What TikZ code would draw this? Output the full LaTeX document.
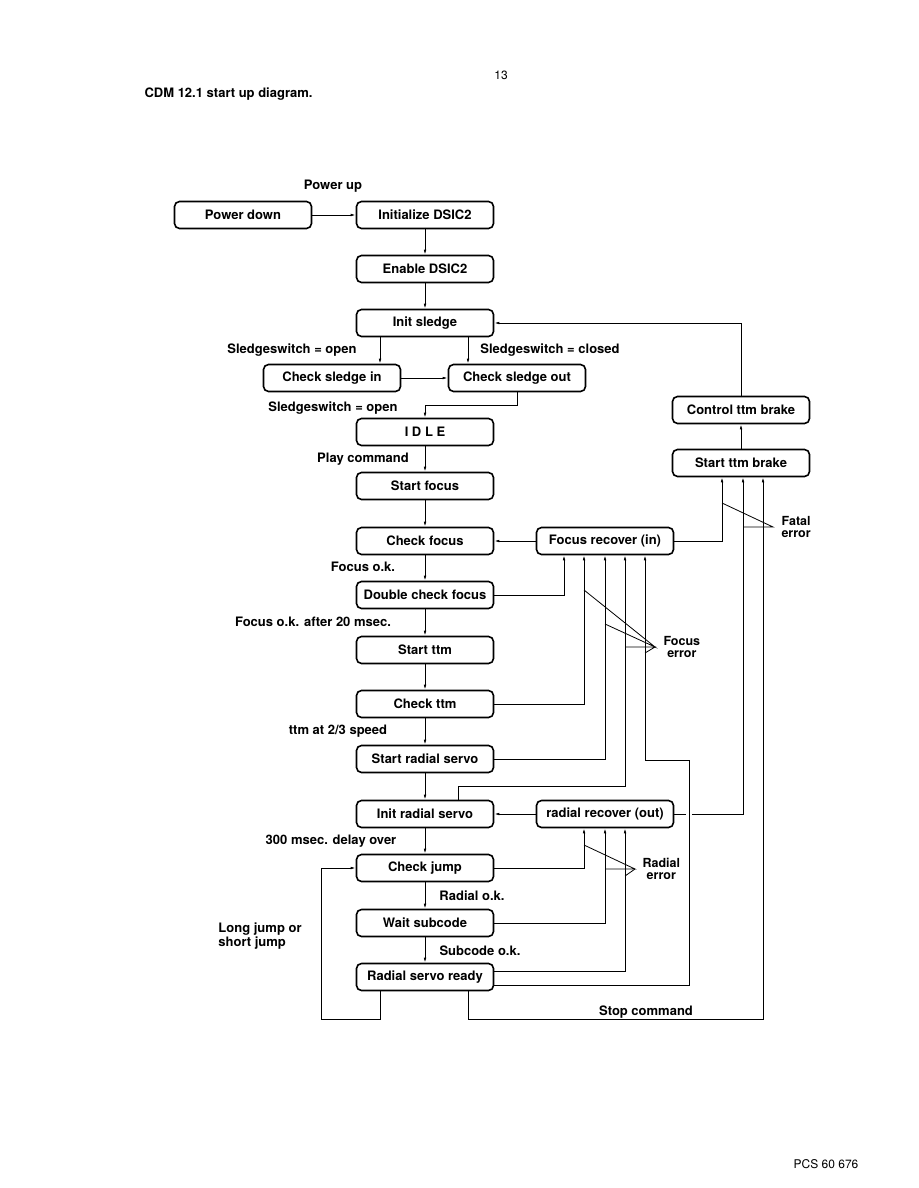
\documentclass[tikz,border=0pt]{standalone}
\usepackage{fontspec}
\setmainfont{TeX Gyre Heros}
\usepackage{tikz}
\usetikzlibrary{arrows.meta}

\begin{document}
\begin{tikzpicture}[x=1pt,y=-1pt]
        \tikzset{state/.style={draw, line width=1.6pt, rounded corners=5pt,
                minimum width=137pt, minimum height=27pt, inner sep=0pt,
                font=\fontsize{13}{14}\selectfont\bfseries},
        txt/.style={font=\fontsize{13}{14}\selectfont\bfseries},
        errtxt/.style={anchor=west, align=center,
                font=\fontsize{12.5}{12}\selectfont\bfseries},
        link/.style={line width=0.8pt, -{Latex[length=5pt,width=2.6pt]}},
        fan/.style={line width=0.8pt}}
        \useasboundingbox (0,0) rectangle (918,1188);
        \node[font=\fontsize{12}{14}\selectfont] (pageno) at (501,75) {13};
        \node[txt, anchor=west] (title) at (141,94) {CDM 12.1 start up diagram.};
        \node[font=\fontsize{12}{14}\selectfont] (docno) at (826,1164) {PCS 60 676};
        \node[state] (pdown) at (243,215) {Power down};
        \node[state] (init) at (425,215) {Initialize DSIC2};
        \node[state] (enable) at (425,269) {Enable DSIC2};
        \node[state] (sledge) at (425,323) {Init sledge};
        \node[state] (sin) at (332,378) {Check sledge in};
        \node[state] (sout) at (517,378) {Check sledge out};
        \node[state] (idle) at (425,432) {I D L E};
        \node[state] (sfocus) at (425,486) {Start focus};
        \node[state] (cfocus) at (425,541) {Check focus};
        \node[state] (dcfocus) at (425,595) {Double check focus};
        \node[state] (sttm) at (425,650) {Start ttm};
        \node[state] (cttm) at (425,704) {Check ttm};
        \node[state] (sradial) at (425,759) {Start radial servo};
        \node[state] (iradial) at (425,814) {Init radial servo};
        \node[state] (cjump) at (425,868) {Check jump};
        \node[state] (wsub) at (425,923) {Wait subcode};
        \node[state] (ready) at (425,977) {Radial servo ready};
        \node[state] (frec) at (605,541) {Focus recover (in)};
        \node[state] (rrec) at (605,814) {radial recover (out)};
        \node[state] (ctrl) at (741,410) {Control ttm brake};
        \node[state] (stbrake) at (741,463) {Start ttm brake};
        \node[txt] (lpup) at (333,186) {Power up};
        \node[txt] (lopen) at (292,350) {Sledgeswitch = open};
        \node[txt] (lclosed) at (550,350) {Sledgeswitch = closed};
        \node[txt] (lopen2) at (333,408) {Sledgeswitch = open};
        \node[txt] (lplay) at (363,459) {Play command};
        \node[txt] (lfok) at (363,567) {Focus o.k.};
        \node[txt] (lfok2) at (313,622) {Focus o.k. after 20 msec.};
        \node[txt] (lspeed) at (338,731) {ttm at 2/3 speed};
        \node[txt] (ldelay) at (331,841) {300 msec. delay over};
        \node[txt] (lrok) at (472,896) {Radial o.k.};
        \node[txt] (lsok) at (480,951) {Subcode o.k.};
        \node[txt] (lstop) at (646,1012) {Stop command};
        \node[txt, align=left, font=\fontsize{13}{11}\selectfont\bfseries] (ljump) at (260,936) {Long jump or\\short jump};
        \coordinate (fatal) at (773,527);
        \coordinate (ferr) at (655,647);
        \coordinate (rerr) at (635,869);
        \node[errtxt] (lfatal) at ([xshift=5pt]fatal) {Fatal\\error};
        \node[errtxt] (lferr) at ([xshift=5pt]ferr) {Focus\\error};
        \node[errtxt] (lrerr) at ([xshift=4pt]rerr) {Radial\\error};
        \draw[link] (pdown) -- (init);
        \draw[link] (init) -- (enable);
        \draw[link] (enable) -- (sledge);
        \draw[link] ([xshift=-45pt]sledge.south) -- ([xshift=-45pt]sledge.south |- sin.north);
        \draw[link] ([xshift=43pt]sledge.south) -- ([xshift=43pt]sledge.south |- sout.north);
        \draw[link] (sin) -- (sout);
        \draw[link] (sout.south) -- ++(0,13) -| (idle.north);
        \draw[link] (idle) -- (sfocus);
        \draw[link] (sfocus) -- (cfocus);
        \draw[link] (cfocus) -- (dcfocus);
        \draw[link] (dcfocus) -- (sttm);
        \draw[link] (sttm) -- (cttm);
        \draw[link] (cttm) -- (sradial);
        \draw[link] (sradial) -- (iradial);
        \draw[link] (iradial) -- (cjump);
        \draw[link] (cjump) -- (wsub);
        \draw[link] (wsub) -- (ready);
        \draw[link] (frec) -- (cfocus);
        \draw[link] (rrec) -- (iradial);
        \draw[link] (dcfocus.east) -| ([xshift=-41pt]frec.south);
        \draw[link] (cttm.east) -| ([xshift=-21pt]frec.south);
        \draw[link] (sradial.east) -| (frec.south);
        \draw[link] ([xshift=33pt]iradial.north) -- ++(0,-13) -| ([xshift=20pt]frec.south);
        \draw[link] ([yshift=-8pt]ready.east) -| (689,760) -| ([xshift=40pt]frec.south);
        \draw[link] (cjump.east) -| ([xshift=-21pt]rrec.south);
        \draw[link] (wsub.east) -| (rrec.south);
        \draw[link] ([yshift=6pt]ready.east) -| ([xshift=20pt]rrec.south);
        \draw[link] (frec.east) -| ([xshift=-19pt]stbrake.south);
        \draw[line width=0.8pt] (rrec.east) -- (686,814);
        \draw[link] (692,814) -| ([xshift=2pt]stbrake.south);
        \draw[link] ([xshift=43pt]ready.south) -- ++(0,28) -| ([xshift=22pt]stbrake.south);
        \draw[link] ([xshift=-45pt]ready.south) -- ++(0,28) -| (321,868) -- (cjump.west);
        \draw[link] (stbrake) -- (ctrl);
        \draw[link] (ctrl.north) |- (sledge.east);
        \draw[fan] (722,503) -- (fatal) -- (743,527);
        \draw[fan] (584,590) -- (ferr) -- (605,624);
        \draw[fan] (625,647) -- (ferr) -- (645,653);
        \draw[fan] (584,845) -- (rerr) -- (605,869);
        \draw[fan] (rerr) -- (625,876);
\end{tikzpicture}
\end{document}
